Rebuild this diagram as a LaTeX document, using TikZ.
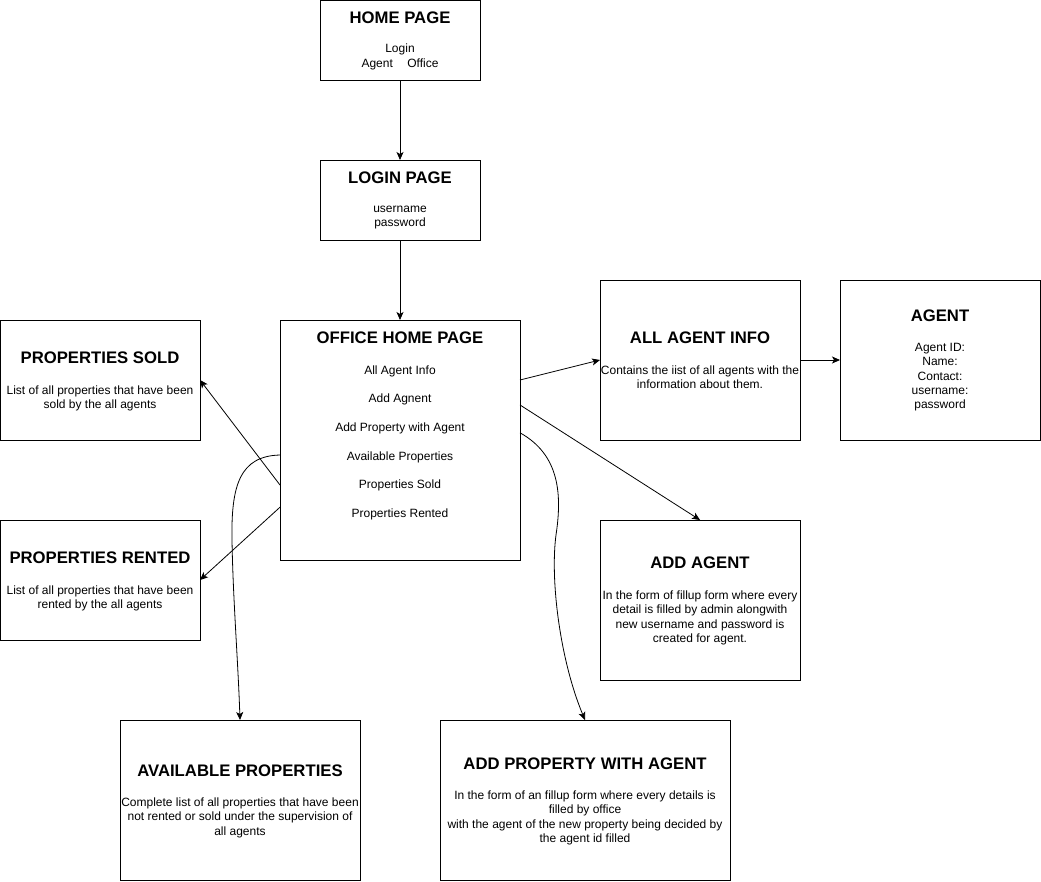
\documentclass[tikz,border=0pt]{standalone}
\usepackage{fontspec}
\setmainfont{Liberation Sans}
\usetikzlibrary{arrows.meta,calc}

\tikzset{
  box/.style={draw=black, line width=1pt, inner sep=0pt, outer sep=0pt},
  ttl/.style={font=\fontsize{16.7}{20}\selectfont\bfseries, anchor=base, inner sep=0pt},
  % multi-line texts are placed by the baseline of their last line
  txt/.style={font=\fontsize{12}{14.4}\selectfont, align=center, anchor=base, inner sep=0pt},
  link/.style={-{Stealth[length=8pt,width=7pt,inset=2pt]}, line width=0.8pt},
}

\begin{document}
\begin{tikzpicture}[x=1pt,y=-1pt]
\useasboundingbox (0,0) rectangle (1041,881);

% page boxes
\node[box, minimum width=160pt, minimum height=80pt]  (home)    at (400,40)  {};
\node[box, minimum width=160pt, minimum height=80pt]  (login)   at (400,200) {};
\node[box, minimum width=240pt, minimum height=240pt] (office)  at (400,440) {};
\node[box, minimum width=200pt, minimum height=120pt] (sold)    at (100,380) {};
\node[box, minimum width=200pt, minimum height=120pt] (rented)  at (100,580) {};
\node[box, minimum width=200pt, minimum height=160pt] (allag)   at (700,360) {};
\node[box, minimum width=200pt, minimum height=160pt] (agent)   at (940,360) {};
\node[box, minimum width=200pt, minimum height=160pt] (addag)   at (700,600) {};
\node[box, minimum width=240pt, minimum height=160pt] (avail)   at (240,800) {};
\node[box, minimum width=290pt, minimum height=160pt] (addprop) at (585,800) {};

% titles
\node[ttl] (thome)    at (400,23)  {HOME PAGE};
\node[ttl] (tlogin)   at (400,183) {LOGIN PAGE};
\node[ttl] (toffice)  at (400,343) {OFFICE HOME PAGE};
\node[ttl] (tsold)    at (100,363) {PROPERTIES SOLD};
\node[ttl] (trented)  at (100,563) {PROPERTIES RENTED};
\node[ttl] (tallag)   at (700,343) {ALL AGENT INFO};
\node[ttl] (tagent)   at (940,321) {AGENT};
\node[ttl] (taddag)   at (700,568) {ADD AGENT};
\node[ttl] (tavail)   at (240,776) {AVAILABLE PROPERTIES};
\node[ttl] (taddprop) at (585,769) {ADD PROPERTY WITH AGENT};

% body texts
\node[txt] (bhome)  at (400,67.3)  {Login\\Agent\hspace{1.2em}Office};
\node[txt] (blogin) at (400,226.7) {username\\password};
\node[txt] (bo1) at (400,374.3) {All Agent Info};
\node[txt] (bo2) at (400,402.3) {Add Agnent};
\node[txt] (bo3) at (400,431.3) {Add Property with Agent};
\node[txt] (bo4) at (400,460.3) {Available Properties};
\node[txt] (bo5) at (400,488.3) {Properties Sold};
\node[txt] (bo6) at (400,517.3) {Properties Rented};
\node[txt] (bsold)   at (100,408.7) {List of all properties that have been\\sold by the all agents};
\node[txt] (brented) at (100,608.7) {List of all properties that have been\\rented by the all agents};
\node[txt] (ballag)  at (700,388.7) {Contains the iist of all agents with the\\information about them.};
\node[txt] (bagent)  at (940,408.9) {Agent ID:\\Name:\\Contact:\\username:\\password};
\node[txt] (baddag)  at (700,642.5) {In the form of fillup form where every\\detail is filled by admin alongwith\\new username and password is\\created for agent.};
\node[txt] (bavail)  at (240,835.1) {Complete list of all properties that have been\\not rented or sold under the supervision of\\all agents};
\node[txt] (baddprop) at (585,842.5) {In the form of an fillup form where every details is\\filled by office\\with the agent of the new property being decided by\\the agent id filled};

% connector end points on the office page
\coordinate (oAll)   at ($(office.north east)!0.25!(office.south east)$);
\coordinate (oAdd)   at ($(office.north east)!0.354!(office.south east)$);
\coordinate (oProp)  at ($(office.north east)!0.47!(office.south east)$);
\coordinate (oAvail) at ($(office.north west)!0.5625!(office.south west)$);
\coordinate (oSold)  at ($(office.north west)!0.6875!(office.south west)$);
\coordinate (oRent)  at ($(office.north west)!0.78!(office.south west)$);

% connectors
\draw[link] (home.south) -- (login.north);
\draw[link] (login.south) -- (office.north);
\draw[link] (oAll) -- (allag.west);
\draw[link] (allag.east) -- (agent.west);
\draw[link] (oAdd) -- (addag.north);
\draw[link] (oSold) -- (sold.east);
\draw[link] (oRent) -- (rented.east);
\draw[link] (oAvail) .. controls (240,456) and (231,485) .. (232,540)
                     .. controls (233,600) and (238,660) .. (avail.north);
\draw[link] (oProp) .. controls (560,455) and (562,495) .. (556,535)
                    .. controls (550,580) and (560,660) .. (addprop.north);
\end{tikzpicture}
\end{document}
